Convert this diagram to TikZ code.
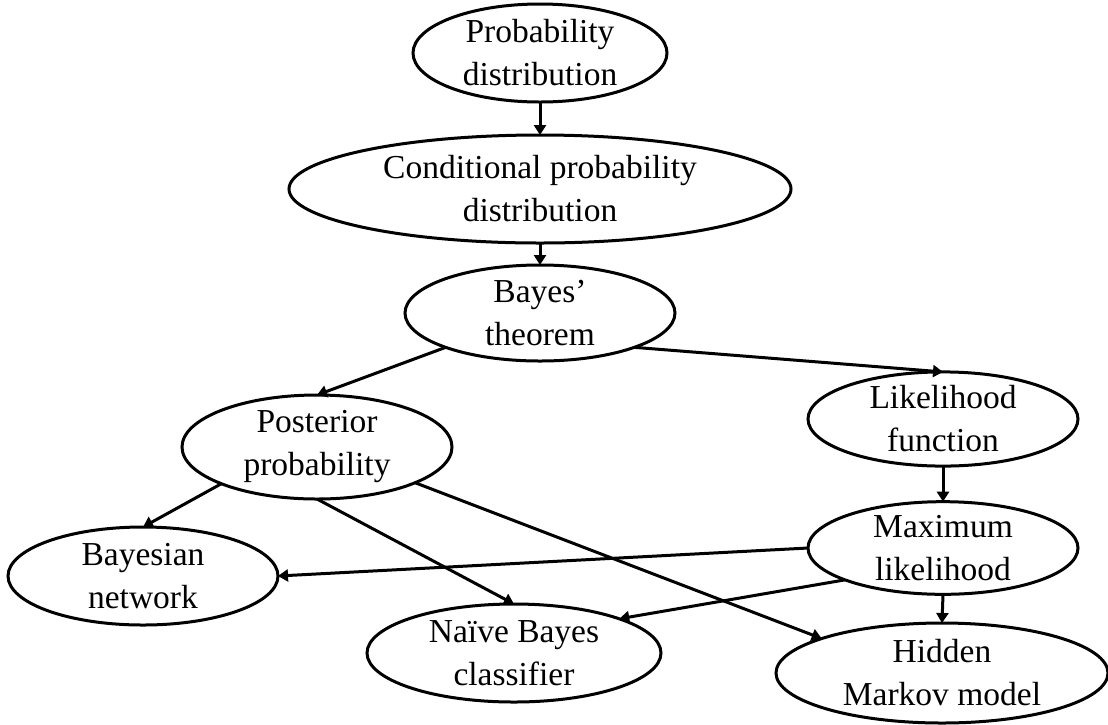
\documentclass[tikz,border=0pt]{standalone}
\usepackage{fontspec}
\setmainfont{Liberation Serif}
\usetikzlibrary{shapes.geometric,arrows.meta}
\begin{document}
\begin{tikzpicture}[x=1pt,y=-1pt,
  concept/.style={ellipse,draw,line width=3pt,inner sep=0pt,outer sep=0pt,
    align=center,font=\fontsize{33.5}{43}\selectfont},
  link/.style={line width=3pt,-{Triangle[length=10pt,width=12pt]}}]
\useasboundingbox (0,0) rectangle (1108,724);

% concepts
\node[concept,minimum width=254pt,minimum height=98pt]  (pd)   at (540,53)  {Probability\\distribution};
\node[concept,minimum width=502pt,minimum height=108pt] (cpd)  at (540,189) {Conditional probability\\distribution};
\node[concept,minimum width=270pt,minimum height=96pt]  (bt)   at (540,313) {Bayes'\\theorem};
\node[concept,minimum width=270pt,minimum height=104pt] (post) at (317,447) {Posterior\\probability};
\node[concept,minimum width=270pt,minimum height=92pt]  (lf)   at (943,419) {Likelihood\\function};
\node[concept,minimum width=270pt,minimum height=90pt]  (ml)   at (943,548) {Maximum\\likelihood};
\node[concept,minimum width=270pt,minimum height=98pt]  (bn)   at (143,576) {Bayesian\\network};
\node[concept,minimum width=294pt,minimum height=98pt]  (nb)   at (514,653) {Naïve Bayes\\classifier};
\node[concept,minimum width=332pt,minimum height=100pt] (hmm)  at (942,673) {Hidden\\Markov model};

% relations
\draw[link] (pd.south) -- (cpd.north);
\draw[link] (cpd.south) -- (bt.north);
\draw[link] (bt.200) -- (post.north);
\draw[link] (bt.-20) -- (lf.north);
\draw[link] (lf.south) -- (ml.north);
\draw[link] (post.201) -- (bn.north);
\draw[link] (post.south) -- (nb.north);
\draw[link] (post.-20) -- (hmm.164);
\draw[link] (ml.west) -- (bn.east);
\draw[link] (ml.198) -- (nb.18);
\draw[link] (ml.south) -- (hmm.north);
\end{tikzpicture}
\end{document}
